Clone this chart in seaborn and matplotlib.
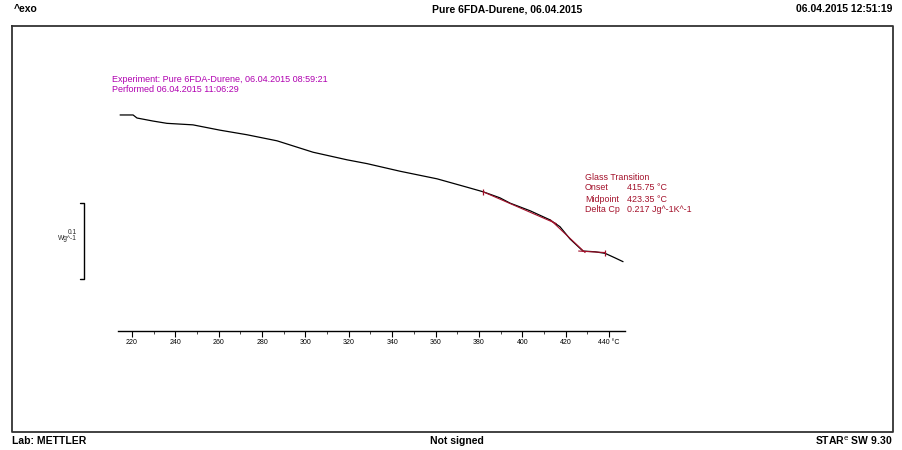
import numpy as np
import pandas as pd
import matplotlib
matplotlib.use("Agg")
import matplotlib.pyplot as plt
import seaborn as sns

# DSC heating curve (heat flow vs. sample temperature)
temperature_c = [214.5, 220.5, 222.3, 229.7, 236.1, 248.1, 260.6, 273.0, 286.9,
                 303.5, 319.2, 328.4, 343.6, 360.7, 374.5, 381.9, 389.7, 394.4,
                 403.6, 412.8, 417.4, 422.0, 428.0, 433.6, 438.2, 442.8, 446.5]
heat_flow_wg = [0.300, 0.300, 0.296, 0.292, 0.289, 0.287, 0.280, 0.274, 0.266,
                0.251, 0.241, 0.236, 0.226, 0.216, 0.205, 0.199, 0.191, 0.184,
                0.174, 0.162, 0.153, 0.137, 0.121, 0.120, 0.118, 0.112, 0.107]

# glass transition evaluation (tangent construction)
pre_base_t = [381.9, 415.75]
pre_base_hf = [0.199, 0.157]
step_t = [413.0, 429.0]
step_hf = [0.162, 0.119]
post_base_t = [426.0, 438.2]
post_base_hf = [0.121, 0.119]
limit_t = [381.9, 438.2]
limit_hf = [0.199, 0.119]

major_ticks = [220, 240, 260, 280, 300, 320, 340, 360, 380, 400, 420, 440]
tick_labels = ["220", "240", "260", "280", "300", "320", "340", "360",
               "380", "400", "420", "440 °C"]

onset_c = 415.75
midpoint_c = 423.35
delta_cp = 0.217

sns.set_theme(style="white")
plt.rcParams["font.family"] = ["Liberation Sans", "DejaVu Sans"]

W, H = 903, 450
fig = plt.figure(figsize=(W / 100, H / 100), dpi=100)
fig.patch.set_facecolor("white")

# page overlay in pixel units
page = fig.add_axes([0, 0, 1, 1])
page.set_xlim(0, W)
page.set_ylim(H, 0)
page.axis("off")

# data axes
x0, x1 = 118, 625
y_top, y_bot = 100, 331
ax = fig.add_axes([x0 / W, 1 - y_bot / H, (x1 - x0) / W, (y_bot - y_top) / H])
ax.set_facecolor("none")

df = pd.DataFrame({"T": temperature_c, "HF": heat_flow_wg})
sns.lineplot(data=df, x="T", y="HF", ax=ax, color="black", lw=0.9,
             estimator=None, sort=False)

red = "#a3102a"
ax.plot(pre_base_t, pre_base_hf, color=red, lw=0.8)
ax.plot(step_t, step_hf, color=red, lw=0.8)
ax.plot(post_base_t, post_base_hf, color=red, lw=0.8)
ax.plot(limit_t, limit_hf, ls="none", marker="|", ms=5, mew=0.9, color=red)

ax.set_xlim(213.54, 447.4)
ax.set_ylim(0.0158, 0.3197)
for side in ["top", "right", "left"]:
    ax.spines[side].set_visible(False)
ax.spines["bottom"].set_color("black")
ax.spines["bottom"].set_linewidth(1.0)
ax.set_xticks(major_ticks)
ax.set_xticklabels(tick_labels)
ax.set_xticks([t + 10 for t in major_ticks[:-1]], minor=True)
ax.tick_params(axis="x", which="major", direction="out", length=4, width=0.8,
               labelsize=5, pad=2, colors="black", bottom=True)
ax.tick_params(axis="x", which="minor", direction="out", length=2, width=0.6,
               bottom=True)
ax.set_yticks([])
ax.set_xlabel("")
ax.set_ylabel("")

# page frame
page.plot([12, 893, 893, 12, 12], [26, 26, 432, 432, 26], color="#333333", lw=1.3)

hdr = dict(fontsize=7.5, fontweight="bold", color="black",
           family=["Liberation Sans Narrow", "Liberation Sans", "DejaVu Sans"])
page.text(14, 9, "^exo", ha="left", va="center", **hdr)
page.text(507, 9, "Pure 6FDA-Durene, 06.04.2015", ha="center", va="center", **hdr)
page.text(892, 9, "06.04.2015 12:51:19", ha="right", va="center", **hdr)
page.text(12, 441, "Lab: METTLER", ha="left", va="center", **hdr)
page.text(457, 441, "Not signed", ha="center", va="center", **hdr)
page.text(892, 441, r"STAR$^{\mathrm{e}}$ SW 9.30", ha="right", va="center", **hdr)

# experiment info
mag = "#b000b0"
page.text(112, 80, "Experiment: Pure 6FDA-Durene, 06.04.2015 08:59:21",
          fontsize=6.5, color=mag, ha="left", va="center")
page.text(112, 90, "Performed 06.04.2015 11:06:29",
          fontsize=6.5, color=mag, ha="left", va="center")

# glass transition results
rows = [("Glass Transition", ""),
        ("Onset", f"{onset_c:.2f} °C"),
        ("Midpoint", f"{midpoint_c:.2f} °C"),
        ("Delta Cp", f"{delta_cp:.3f} Jg^-1K^-1")]
for i, (lab, val) in enumerate(rows):
    yy = 177 + i * 11
    page.text(585, yy, lab, fontsize=6.4, color=red, ha="left", va="center")
    if val:
        page.text(627, yy, val, fontsize=6.4, color=red, ha="left", va="center")

# heat flow scale bar
page.plot([80, 84, 84, 80], [203, 203, 279, 279], color="black", lw=1.0)
page.text(77, 232, "0.1", fontsize=4.8, ha="right", va="center")
page.text(77, 239, "Wg^-1", fontsize=4.8, ha="right", va="center")

fig.savefig("out.png", dpi=100, facecolor="white")
